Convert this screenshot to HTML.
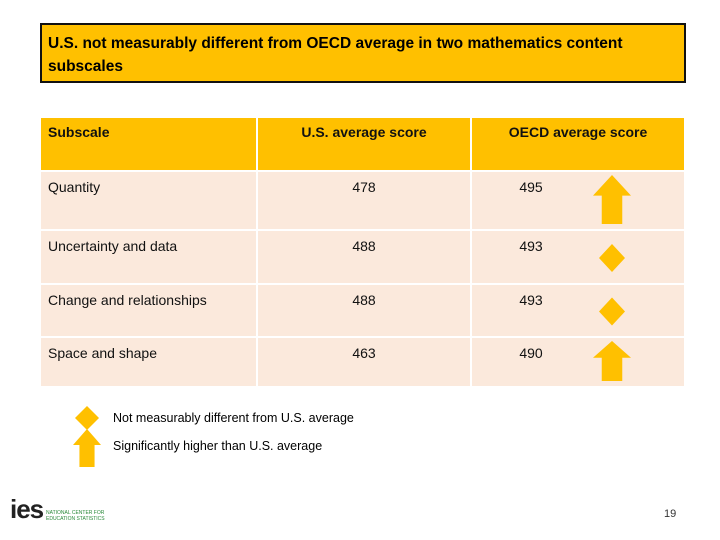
<!DOCTYPE html>
<html><head><meta charset="utf-8"><style>
body{margin:0;width:720px;height:540px;background:#fff;position:relative;font-family:"Liberation Sans","DejaVu Sans",sans-serif;overflow:hidden}
.a{position:absolute}
#title{left:40px;top:23px;width:646px;height:60px;background:#FFC000;border:2px solid #111;font-weight:bold;font-size:15.5px;line-height:23px;padding:7px 20px 0 6px;box-sizing:border-box;color:#000}
.c{position:absolute;background:#FBE9DC;font-size:14px;color:#111;box-sizing:border-box}
.h{background:#FFC000;font-weight:bold}
</style></head><body>
<div id="title" class="a">U.S. not measurably different from OECD average in two mathematics content subscales</div>
<div id="tbl"></div>
<svg class="a" style="left:0;top:0" width="720" height="540" id="icons"></svg>
<div class="a" style="left:113px;top:411px;font-size:12.5px">Not measurably different from U.S. average</div>
<div class="a" style="left:113px;top:439px;font-size:12.5px">Significantly higher than U.S. average</div>
<div class="a" style="left:10px;top:498px;width:110px;height:32px"><span class="a" style="left:0;top:-4px;font-size:26px;font-weight:bold;color:#222;letter-spacing:-1px">ies</span><span class="a" style="left:36px;top:12px;font-size:5px;line-height:6px;color:#2a8a3a;white-space:nowrap">NATIONAL CENTER FOR<br>EDUCATION STATISTICS</span></div>
<div class="a" style="left:664px;top:508px;font-size:11px;color:#333">19</div>
<script>
const subscales=["Quantity","Uncertainty and data","Change and relationships","Space and shape"];
const usScores=[478,488,488,463];
const oecdScores=[495,493,493,490];
const status=["higher","same","same","higher"];
const tbl=document.getElementById('tbl');
const cols=[[41,215],[258,212],[472,212]];
const rows=[[118,52],[172,57],[231,52],[285,51],[338,48]];
const heads=["Subscale","U.S. average score","OECD average score"];
function cell(x,w,y,h,txt,cls,align,name){
  const d=document.createElement('div');
  d.className='c '+cls;
  d.style.cssText=`left:${x}px;top:${y}px;width:${w}px;height:${h}px;padding:${cls?6:7}px 0 0 ${align==='l'?7:0}px;text-align:${align==='l'?'left':'center'}`;
  d.textContent=txt;
  
  
  tbl.appendChild(d);
}
heads.forEach((t,i)=>cell(cols[i][0],cols[i][1],rows[0][0],rows[0][1],t,'h',i?'c':'l','header-'+i));
subscales.forEach((s,r)=>{
  const [y,h]=rows[r+1];
  cell(cols[0][0],cols[0][1],y,h,s,'','l','subscale-label');
  cell(cols[1][0],cols[1][1],y,h,String(usScores[r]),'','c','us-score');
  cell(cols[2][0],118,y,h,String(oecdScores[r]),'','c','oecd-score');
  cell(cols[2][0]+118,94,y,h,'','','c','oecd-icon-cell');
});
const svg=document.getElementById('icons');
const NS='http://www.w3.org/2000/svg';
function arrow(cx,top,w,h,name){
  const p=document.createElementNS(NS,'polygon');
  const hw=w/2,sw=w*0.27,hh=h*0.42;
  p.setAttribute('points',`${cx},${top} ${cx+hw},${top+hh} ${cx+sw},${top+hh} ${cx+sw},${top+h} ${cx-sw},${top+h} ${cx-sw},${top+hh} ${cx-hw},${top+hh}`);
  p.setAttribute('fill','#FFC000');
  
  
  svg.appendChild(p);
}
function diamond(cx,cy,w,h,name){
  const p=document.createElementNS(NS,'polygon');
  p.setAttribute('points',`${cx},${cy-h/2} ${cx+w/2},${cy} ${cx},${cy+h/2} ${cx-w/2},${cy}`);
  p.setAttribute('fill','#FFC000');
  
  
  svg.appendChild(p);
}
status.forEach((s,r)=>{
  const [y,h]=rows[r+1];
  if(s==='higher') arrow(612,y+3,38,h-8,'higher-arrow');
  else diamond(612,y+h/2+1,26,28,'same-diamond');
});
diamond(87,418,24,24,'legend-diamond');
arrow(87,429,28,38,'legend-arrow');
</script>
</body></html>
